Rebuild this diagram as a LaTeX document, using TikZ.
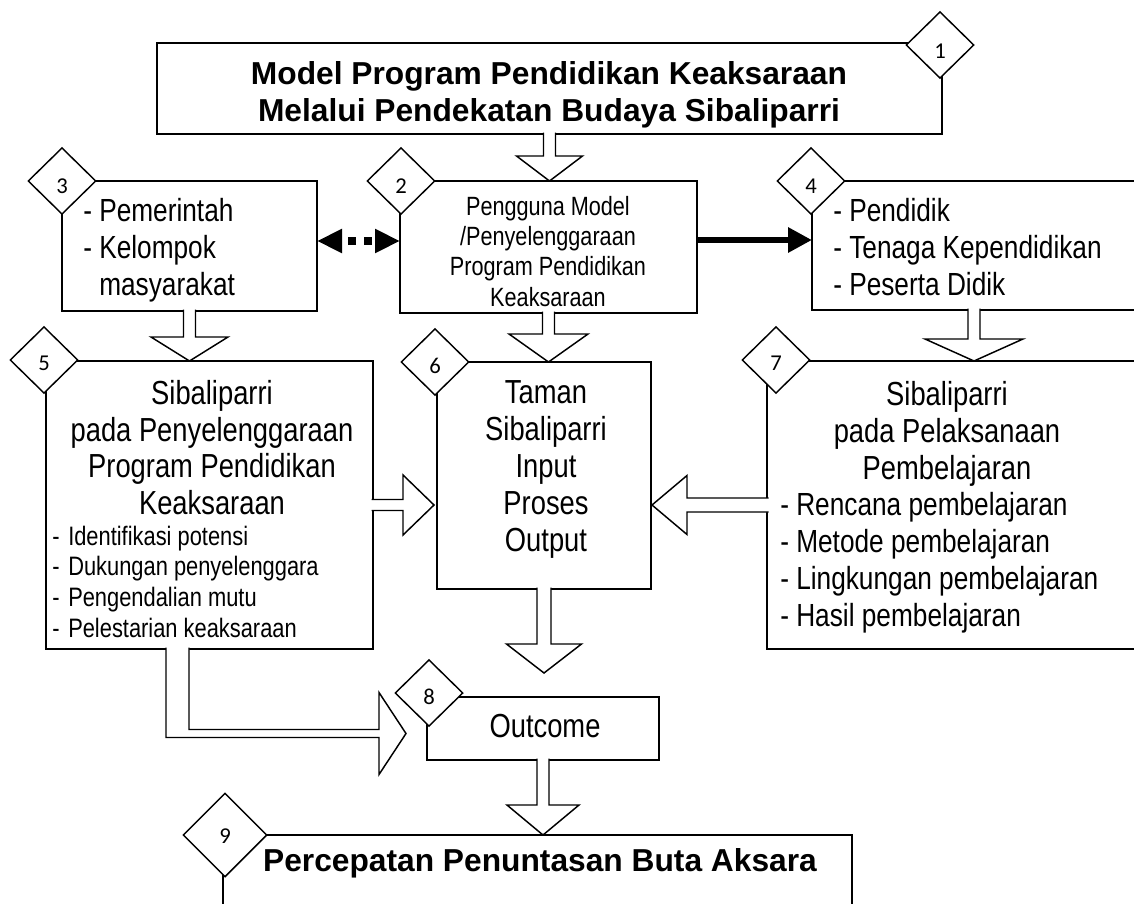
\documentclass[tikz,border=0pt]{standalone}
\usepackage{fontspec}
\setmainfont[FakeStretch=0.82]{Liberation Sans}
\newfontfamily\titlefont{Liberation Sans}
\newfontfamily\numfont{Carlito}
\usetikzlibrary{shapes.geometric,arrows.meta,calc,fit}

% hollow block arrow pointing down: #1 start anchor, #2 tip, #3 shaft half, #4 head half, #5 head length
\newcommand\blkdown[5]{%
  \path (#2) coordinate (T) (T |- #1) coordinate (S);
  \draw[hollow] ($(S)+(-#3,-1.5)$) -- ($(T)+(-#3,-#5)$) -- ($(T)+(-#4,-#5)$) -- (T)
     -- ($(T)+(#4,-#5)$) -- ($(T)+(#3,-#5)$) -- ($(S)+(#3,-1.5)$);
}
% hollow block arrow, horizontal: #6 = 1 (right) or -1 (left)
\newcommand\blkh[6]{%
  \path (#2) coordinate (T) (T -| #1) coordinate (S);
  \draw[hollow] ($(S)+({-1.5*(#6)},-#3)$) -- ($(T)+({-(#6)*(#5)},-#3)$) -- ($(T)+({-(#6)*(#5)},-#4)$) -- (T)
     -- ($(T)+({-(#6)*(#5)},#4)$) -- ($(T)+({-(#6)*(#5)},#3)$) -- ($(S)+({-1.5*(#6)},#3)$);
}

\begin{document}
\begin{tikzpicture}[x=0.75pt,y=-0.75pt,
  box/.style={draw, line width=1.5pt, inner sep=0pt, outer sep=0pt, rectangle},
  dia/.style={draw, diamond, fill=white, line width=1.1pt, minimum width=51pt, minimum height=50pt, inner sep=0pt},
  bigdia/.style={dia, minimum width=63pt, minimum height=63pt},
  num/.style={inner sep=0pt, font=\numfont\fontsize{17}{17}\selectfont},
  hollow/.style={draw, fill=white, line width=1.1pt, line join=miter},
  txt/.style={inner sep=0pt, anchor=base},
  ttl/.style={txt, align=center, font=\titlefont\bfseries\fontsize{23.8}{27.75}\selectfont},
  head/.style={txt, align=center, font=\fontsize{25}{27.6}\selectfont},
  lst/.style={txt, anchor=base west, align=left, font=\fontsize{24}{27.4}\selectfont},
]
\useasboundingbox (0,0) rectangle (1134,903);
\clip (0,0) rectangle (1134,903);

% boxes
\node[box, fit={(157,43) (942,134)}] (b1) {};
\node[box, fit={(400,181) (697,313)}] (b2) {};
\node[box, fit={(62,181) (317,311)}] (b3) {};
\node[box, fit={(812,181) (1136,310)}] (b4) {};
\node[box, fit={(46,361) (373,649)}] (b5) {};
\node[box, fit={(437,362) (651,589)}] (b6) {};
\node[box, fit={(767,361) (1180,649)}] (b7) {};
\node[box, fit={(427,697) (659,760)}] (b8) {};
\node[box, fit={(223,835) (852,930)}] (b9) {};

% block arrows
\blkdown{b1.south}{b1.south |- b2.north}{6}{33}{25}
\blkdown{b3.south}{b3.south |- b5.north}{6}{38.5}{24}
\blkdown{b2.south}{b2.south |- b6.north}{6}{39.5}{28}
\blkdown{b4.south}{b4.south |- b7.north}{6}{49}{22}
\blkdown{b6.south}{$(b6.south |- b8.north)+(0,-24)$}{7}{37.5}{29}
\blkdown{b8.south}{b8.south |- b9.north}{6}{36}{30}
\blkh{b5.east}{$(b6.west |- b5.east)+(-3,0)$}{5.5}{30}{31}{1}
\blkh{b7.west}{$(b6.east |- b7.west)+(1,0)$}{7}{29.5}{35}{-1}

% L-shaped block arrow from box 5 towards Outcome
\coordinate (S1) at ($(b5.south west)+(120,-1.5)$);
\coordinate (S2) at ($(b5.south west)+(143,-1.5)$);
\coordinate (LT) at ($(b8.west)+(-21,5)$);
\coordinate (LA) at ($(LT)+(0,-4)$);
\coordinate (LB) at ($(LT)+(0,4)$);
\coordinate (HB) at ($(LT)+(-27,0)$);
\draw[hollow] (S1) -- (S1 |- LB) -- (HB |- LB) -- ($(HB)+(0,41)$) -- (LT) -- ($(HB)+(0,-41)$)
   -- (HB |- LA) -- (S2 |- LA) -- (S2);

% line arrows
\coordinate (a32) at ($(b3.east)+(0,-5)$);
\draw[line width=6pt, dash pattern=on 6pt off 6pt, dash phase=6pt,
  {Triangle[length=18.75pt,width=17pt]}-{Triangle[length=18.75pt,width=17pt]}]
  (a32) -- (a32 -| b2.west);
\coordinate (a24) at ($(b2.east)+(0,-7)$);
\draw[line width=5pt, -{Triangle[length=18pt,width=18pt]}] (a24) -- (a24 -| b4.west);

% diamonds
\node[dia] (d1) at (940,45) {};
\node[dia] (d2) at (401,181) {};
\node[dia] (d3) at (62,181) {};
\node[dia] (d4) at (811,181) {};
\node[dia] (d5) at (44,360) {};
\node[dia] (d6) at (435,362) {};
\node[dia] (d7) at (776,360) {};
\node[dia] (d8) at (429,693) {};
\node[bigdia] (d9) at (225,835) {};
\node[num] at ($(d1.center)+(0,6)$) {1};
\node[num] at ($(d2.center)+(0,5)$) {2};
\node[num] at ($(d3.center)+(0,5)$) {3};
\node[num] at ($(d4.center)+(0,5)$) {4};
\node[num] at ($(d5.center)+(0,3)$) {5};
\node[num] at ($(d6.center)+(0,4)$) {6};
\node[num] at ($(d7.center)+(0,3)$) {7};
\node[num] at ($(d8.center)+(0,4)$) {8};
\node[num] at ($(d9.center)+(0,1)$) {9};

% texts (anchored at the baseline of their last line)
\node[ttl] (t1) at (549,121) {Model Program Pendidikan Keaksaraan\\Melalui Pendekatan Budaya Sibaliparri};
\node[txt, align=center, font=\fontsize{19.8}{22.7}\selectfont] (t2) at (548,306)
  {Pengguna Model\\/Penyelenggaraan\\Program Pendidikan\\Keaksaraan};
\node[lst] (t3) at (83,295) {- Pemerintah\\- Kelompok\\\phantom{- }masyarakat};
\node[lst] (t4) at (833,295) {- Pendidik\\- Tenaga Kependidikan\\- Peserta Didik};
\node[head] (t5) at (212,514.6) {Sibaliparri\\pada Penyelenggaraan\\Program Pendidikan\\Keaksaraan};
\node[lst, font=\fontsize{20}{23}\selectfont] (t5l) at (52,637)
  {\makebox[12pt][l]{-}Identifikasi potensi\\\makebox[12pt][l]{-}Dukungan penyelenggara\\\makebox[12pt][l]{-}Pengendalian mutu\\\makebox[12pt][l]{-}Pelestarian keaksaraan};
\node[head] (t6) at (546,551) {Taman\\Sibaliparri\\Input\\Proses\\Output};
\node[head] (t7) at (947,479) {Sibaliparri\\pada Pelaksanaan\\Pembelajaran};
\node[lst, font=\fontsize{24}{27.7}\selectfont] (t7l) at (780,626)
  {- Rencana pembelajaran\\- Metode pembelajaran\\- Lingkungan pembelajaran\\- Hasil pembelajaran};
\node[head] (t8) at (545,737) {Outcome};
\node[ttl] (t9) at (540,871) {Percepatan Penuntasan Buta Aksara};
\end{tikzpicture}
\end{document}
